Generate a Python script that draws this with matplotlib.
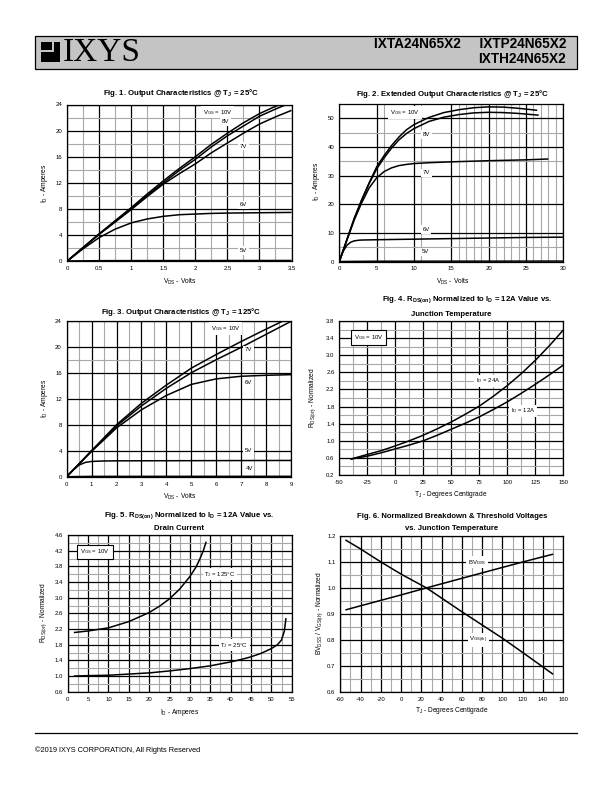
import matplotlib
matplotlib.use('Agg')
import matplotlib.pyplot as plt
from matplotlib.patches import Rectangle

plt.rcParams['font.family'] = ['Liberation Sans', 'DejaVu Sans']
plt.rcParams['mathtext.default'] = 'regular'

# ---- data ----
# Fig. 1  output characteristics @ 25C
f1_x10 = [0, 0.25, 0.5, 0.75, 1.0, 1.25, 1.5, 1.75, 2.0, 2.25, 2.5, 2.75, 3.0, 3.2, 3.32]
f1_y10 = [0, 2.1, 4.2, 6.2, 8.2, 10.3, 12.3, 14.2, 16.0, 17.9, 19.6, 21.2, 22.6, 23.5, 24.0]
f1_x8 = [0, 0.25, 0.5, 0.75, 1.0, 1.25, 1.5, 1.75, 2.0, 2.25, 2.5, 2.75, 3.0, 3.25, 3.42]
f1_y8 = [0, 2.1, 4.15, 6.1, 8.1, 10.1, 12.0, 13.9, 15.6, 17.5, 19.2, 20.7, 22.2, 23.3, 24.0]
f1_x7 = [0, 0.25, 0.5, 0.75, 1.0, 1.25, 1.5, 1.75, 2.0, 2.25, 2.5, 2.75, 3.0, 3.25, 3.5]
f1_y7 = [0, 2.05, 4.1, 6.0, 7.9, 9.9, 11.8, 13.4, 14.9, 16.6, 18.1, 19.6, 21.0, 22.1, 23.1]
f1_x6 = [0, 0.25, 0.5, 0.75, 1.0, 1.25, 1.5, 1.75, 2.0, 2.25, 2.5, 3.0, 3.5]
f1_y6 = [0, 1.9, 3.6, 4.9, 5.85, 6.45, 6.85, 7.1, 7.2, 7.3, 7.35, 7.4, 7.45]
f1_x5 = [0, 0.5, 1.0, 3.5]
f1_y5 = [0, 0.05, 0.06, 0.08]

# Fig. 2  extended output characteristics @ 25C
f2_x10 = [0, 1, 2, 3, 4, 5, 6, 7, 8, 9, 10, 12, 14, 16, 18, 20, 22, 24, 26.5]
f2_y10 = [0, 7.5, 15, 21.5, 27.5, 33, 37, 40.5, 43.5, 46, 47.8, 50.3, 52, 53, 53.7, 54, 53.9, 53.5, 52.8]
f2_x8 = [0, 1, 2, 3, 4, 5, 6, 7, 8, 9, 10, 12, 14, 16, 18, 20, 22, 24, 26.7]
f2_y8 = [0, 7.5, 15, 21.5, 27.2, 32.3, 36.2, 39.6, 42.5, 44.7, 46.4, 48.9, 50.4, 51.3, 51.9, 52.1, 52.0, 51.7, 51.1]
f2_x7 = [0, 1, 2, 3, 4, 5, 6, 7, 8, 9, 10, 12, 15, 20, 25, 28]
f2_y7 = [0, 7.3, 14.5, 20.5, 25.7, 29.2, 31.4, 32.7, 33.5, 33.9, 34.2, 34.5, 34.8, 35.2, 35.5, 35.8]
f2_x6 = [0, 0.5, 1, 1.5, 2, 2.5, 3, 5, 10, 15, 20, 25, 30]
f2_y6 = [0, 3.5, 5.6, 6.7, 7.2, 7.4, 7.5, 7.6, 7.8, 8.0, 8.2, 8.4, 8.5]
f2_x5 = [0, 5, 30]
f2_y5 = [0, 0.1, 0.15]

# Fig. 3  output characteristics @ 125C
f3_x10 = [0, 1, 2, 3, 4, 5, 6, 7, 8, 8.7]
f3_y10 = [0, 4.0, 8.0, 11.3, 14.1, 16.7, 18.8, 20.8, 22.7, 24.0]
f3_x7 = [0, 1, 2, 3, 4, 5, 6, 7, 8, 9]
f3_y7 = [0, 4.0, 7.8, 10.9, 13.6, 16.0, 18.0, 19.9, 21.9, 23.9]
f3_x6 = [0, 1, 2, 3, 4, 5, 6, 7, 8, 9]
f3_y6 = [0, 3.9, 7.5, 10.3, 12.5, 14.2, 15.05, 15.45, 15.6, 15.7]
f3_x5 = [0, 0.25, 0.5, 0.75, 1.0, 1.5, 2.0, 9.0]
f3_y5 = [0, 1.0, 1.8, 2.2, 2.35, 2.42, 2.44, 2.5]
f3_x4 = [0, 1, 9]
f3_y4 = [0, 0.05, 0.06]

# Fig. 4  RDS(on) vs junction temperature
f4_t = [-40, -25, -12.5, 0, 12.5, 25, 37.5, 50, 62.5, 75, 87.5, 100, 112.5, 125, 137.5, 150]
f4_r24 = [0.57, 0.68, 0.77, 0.88, 1.0, 1.13, 1.28, 1.44, 1.62, 1.81, 2.04, 2.29, 2.57, 2.88, 3.22, 3.59]
f4_r12 = [0.57, 0.64, 0.72, 0.81, 0.90, 1.0, 1.13, 1.27, 1.41, 1.56, 1.73, 1.91, 2.11, 2.32, 2.54, 2.77]

# Fig. 5  RDS(on) vs drain current
f5_i125 = [1.5, 5, 10, 15, 20, 22.5, 25, 27.5, 30, 31.5, 32.5, 33.3, 34]
f5_r125 = [2.11, 2.15, 2.23, 2.39, 2.62, 2.78, 2.97, 3.22, 3.54, 3.78, 4.0, 4.2, 4.43]
f5_i25 = [1.5, 5, 10, 15, 20, 25, 30, 35, 40, 42.5, 45, 47.5, 50, 51.5, 52.5, 53.2, 53.6]
f5_r25 = [1.0, 1.01, 1.02, 1.05, 1.08, 1.13, 1.19, 1.26, 1.36, 1.42, 1.49, 1.58, 1.7, 1.8, 1.92, 2.15, 2.48]

# Fig. 6  BVDSS and VGS(th) vs temperature
f6_t = [-55, -40, -20, 0, 25, 60, 80, 100, 125, 150]
f6_bv = [0.915, 0.931, 0.952, 0.973, 1.0, 1.037, 1.058, 1.079, 1.105, 1.13]
f6_vth = [1.185, 1.15, 1.10, 1.053, 1.0, 0.908, 0.857, 0.806, 0.737, 0.667]

W, H = 612, 792
fig = plt.figure(figsize=(6.12, 7.92), dpi=100)

bg = fig.add_axes([0, 0, 1, 1])
bg.set_xlim(0, W)
bg.set_ylim(H, 0)
bg.axis('off')

TICK = 4.3
LAB = 4.8
TIT = 5.6


def axes_px(l, t, r, b):
    return fig.add_axes([l / W, 1 - b / H, (r - l) / W, (b - t) / H])


def setup(ax, xlim, ylim, xmaj, ymaj, xmin, ymin, xlab=None, ylab=None):
    ax.set_xlim(xlim)
    ax.set_ylim(ylim)
    ax.set_xticks(xmaj)
    ax.set_yticks(ymaj)
    if xlab is not None:
        ax.set_xticklabels(xlab)
    if ylab is not None:
        ax.set_yticklabels(ylab)
    ax.set_xticks(xmin, minor=True)
    ax.set_yticks(ymin, minor=True)
    ax.grid(which='minor', color='#a8a8a8', lw=0.8)
    ax.grid(which='major', color='black', lw=0.9)
    ax.set_axisbelow(True)
    ax.tick_params(which='both', length=0, labelsize=TICK, pad=3.5)
    for s in ax.spines.values():
        s.set_linewidth(0.9)


def curve(ax, x, y):
    ax.plot(x, y, color='black', lw=1.1, solid_capstyle='butt')


def tag(ax, x, y, s, box=False):
    if box:
        bb = dict(facecolor='white', edgecolor='black', lw=0.8, pad=2.0)
    else:
        bb = dict(facecolor='white', edgecolor='none', pad=1.2)
    ax.text(x, y, s, fontsize=TICK, ha='center', va='center', bbox=bb, zorder=5)


def ptext(x, y, s, **kw):
    bg.text(x, y, s, ha='center', va='center', **kw)


# ---- header / footer ----
bg.add_patch(Rectangle((35, 36), 542, 33, facecolor='#c4c4c4', edgecolor='black', lw=0.9))
bg.add_patch(Rectangle((41, 42), 19, 20, facecolor='black', edgecolor='none'))
bg.add_patch(Rectangle((41, 50), 12, 2.2, facecolor='#c4c4c4', edgecolor='none'))
bg.add_patch(Rectangle((52, 42), 2.2, 10, facecolor='#c4c4c4', edgecolor='none'))
bg.text(63, 53, 'IXYS', fontsize=24, family='Liberation Serif', ha='left', va='center')
bg.text(566, 44, 'IXTA24N65X2     IXTP24N65X2', fontsize=9.8, weight='bold', ha='right', va='center')
bg.text(566, 59, 'IXTH24N65X2', fontsize=9.8, weight='bold', ha='right', va='center')
bg.plot([35, 577], [733, 733], color='black', lw=0.9)
bg.text(35, 750, '\u00a92019 IXYS CORPORATION, All Rights Reserved', fontsize=5.3, ha='left', va='center')

# ---- Fig. 1 ----
ax1 = axes_px(67.3, 104.5, 291.5, 261)
setup(ax1, (0, 3.5), (0, 24),
      [0, 0.5, 1, 1.5, 2, 2.5, 3, 3.5], [0, 4, 8, 12, 16, 20, 24],
      [0.25, 0.75, 1.25, 1.75, 2.25, 2.75, 3.25], [2, 6, 10, 14, 18, 22],
      xlab=['0', '0.5', '1', '1.5', '2', '2.5', '3', '3.5'])
curve(ax1, f1_x10, f1_y10)
curve(ax1, f1_x8, f1_y8)
curve(ax1, f1_x7, f1_y7)
curve(ax1, f1_x6, f1_y6)
curve(ax1, f1_x5, f1_y5)
tag(ax1, 2.35, 22.8, 'V$_{GS}$ = 10V')
tag(ax1, 2.47, 21.4, '8V')
tag(ax1, 2.75, 17.6, '7V')
tag(ax1, 2.75, 8.6, '6V')
tag(ax1, 2.75, 1.6, '5V')
ptext(181, 93, 'Fig. 1. Output Characteristics @ T$_J$ = 25\u00b0C', fontsize=TIT, weight='bold')
ptext(180, 282, 'V$_{DS}$ - Volts', fontsize=LAB)
ptext(45, 183, 'I$_D$ - Amperes', fontsize=LAB, rotation=90)

# ---- Fig. 2 ----
ax2 = axes_px(339.3, 104, 563.3, 261.5)
setup(ax2, (0, 30), (0, 55),
      [0, 5, 10, 15, 20, 25, 30], [0, 10, 20, 30, 40, 50],
      [6, 11, 16, 17, 18, 19, 21, 22, 23, 24, 26, 27, 28, 29], [5, 35, 45])
curve(ax2, f2_x10, f2_y10)
curve(ax2, f2_x8, f2_y8)
curve(ax2, f2_x7, f2_y7)
curve(ax2, f2_x6, f2_y6)
curve(ax2, f2_x5, f2_y5)
tag(ax2, 8.8, 52, 'V$_{GS}$ = 10V')
tag(ax2, 11.7, 44.4, '8V')
tag(ax2, 11.65, 31, '7V')
tag(ax2, 11.6, 11.2, '6V')
tag(ax2, 11.6, 3.4, '5V')
ptext(453, 94, 'Fig. 2. Extended Output Characteristics @ T$_J$ = 25\u00b0C', fontsize=TIT, weight='bold')
ptext(453, 282, 'V$_{DS}$ - Volts', fontsize=LAB)
ptext(316, 181, 'I$_D$ - Amperes', fontsize=LAB, rotation=90)

# ---- Fig. 3 ----
ax3 = axes_px(66.7, 320.7, 291, 476.7)
setup(ax3, (0, 9), (0, 24),
      list(range(10)), [0, 4, 8, 12, 16, 20, 24],
      [0.5, 1.5, 2.5, 3.5, 4.5, 5.5, 6.5, 7.5, 8.5], [18])
curve(ax3, f3_x10, f3_y10)
curve(ax3, f3_x7, f3_y7)
curve(ax3, f3_x6, f3_y6)
curve(ax3, f3_x5, f3_y5)
curve(ax3, f3_x4, f3_y4)
tag(ax3, 6.38, 22.8, 'V$_{GS}$ = 10V')
tag(ax3, 7.29, 19.5, '7V')
tag(ax3, 7.29, 14.5, '6V')
tag(ax3, 7.29, 4.0, '5V')
tag(ax3, 7.32, 1.25, '4V')
ptext(181, 312, 'Fig. 3. Output Characteristics @ T$_J$ = 125\u00b0C', fontsize=TIT, weight='bold')
ptext(180, 497, 'V$_{DS}$ - Volts', fontsize=LAB)
ptext(45, 398, 'I$_D$ - Amperes', fontsize=LAB, rotation=90)

# ---- Fig. 4 ----
ax4 = axes_px(339.3, 321, 563.3, 475)
y4 = [0.2, 0.6, 1.0, 1.4, 1.8, 2.2, 2.6, 3.0, 3.4, 3.8]
setup(ax4, (-50, 150), (0.2, 3.8),
      [-50, -25, 0, 25, 50, 75, 100, 125, 150], y4,
      [-37.5, -12.5, 12.5, 37.5, 62.5, 87.5, 112.5, 137.5],
      [0.4, 0.8, 1.2, 1.6, 2.0, 2.4, 2.8, 3.2, 3.6],
      xlab=['-50', '-25', '0', '25', '50', '75', '100', '125', '150'],
      ylab=['%.1f' % v for v in y4])
curve(ax4, f4_t, f4_r24)
curve(ax4, f4_t, f4_r12)
tag(ax4, -24, 3.42, 'V$_{GS}$ = 10V', box=True)
tag(ax4, 83, 2.4, 'I$_D$ = 24A')
tag(ax4, 114, 1.70, 'I$_D$ = 12A')
ptext(467, 300, 'Fig. 4. R$_{DS(on)}$ Normalized to I$_D$ = 12A Value vs.', fontsize=TIT, weight='bold')
ptext(451, 314, 'Junction Temperature', fontsize=TIT, weight='bold')
ptext(451, 494, 'T$_J$ - Degrees Centigrade', fontsize=LAB)
ptext(313, 398, 'R$_{DS(on)}$ - Normalized', fontsize=LAB, rotation=90)

# ---- Fig. 5 ----
ax5 = axes_px(67.7, 535, 291.7, 691.7)
y5 = [0.6, 1.0, 1.4, 1.8, 2.2, 2.6, 3.0, 3.4, 3.8, 4.2, 4.6]
setup(ax5, (0, 55), (0.6, 4.6),
      list(range(0, 60, 5)), y5,
      [2.5, 7.5, 12.5, 17.5, 22.5, 27.5, 32.5, 37.5, 42.5, 47.5, 52.5],
      [0.8, 1.2, 1.6, 2.0, 2.4, 2.8, 3.2, 3.6, 4.0, 4.4],
      ylab=['%.1f' % v for v in y5])
curve(ax5, f5_i125, f5_r125)
curve(ax5, f5_i25, f5_r25)
tag(ax5, 6.7, 4.17, 'V$_{GS}$ = 10V', box=True)
tag(ax5, 37.4, 3.6, 'T$_J$ = 125\u00b0C')
tag(ax5, 40.9, 1.79, 'T$_J$ = 25\u00b0C')
ptext(189, 516, 'Fig. 5. R$_{DS(on)}$ Normalized to I$_D$ = 12A Value vs.', fontsize=TIT, weight='bold')
ptext(179, 529, 'Drain Current', fontsize=TIT, weight='bold')
ptext(180, 712, 'I$_D$ - Amperes', fontsize=LAB)
ptext(44, 613, 'R$_{DS(on)}$ - Normalized', fontsize=LAB, rotation=90)

# ---- Fig. 6 ----
ax6 = axes_px(340.3, 536, 563.3, 691.7)
y6 = [0.6, 0.7, 0.8, 0.9, 1.0, 1.1, 1.2]
x6 = list(range(-60, 180, 20))
setup(ax6, (-60, 160), (0.6, 1.2),
      x6, y6,
      list(range(-50, 160, 20)), [0.65, 0.75, 0.85, 0.95, 1.05, 1.15],
      xlab=[str(v) for v in x6],
      ylab=['%.1f' % v for v in y6])
curve(ax6, f6_t, f6_bv)
curve(ax6, f6_t, f6_vth)
tag(ax6, 74.6, 1.099, 'BV$_{DSS}$')
tag(ax6, 76.2, 0.799, 'V$_{GS(th)}$')
ptext(452, 517, 'Fig. 6. Normalized Breakdown & Threshold Voltages', fontsize=TIT, weight='bold')
ptext(452, 529, 'vs. Junction Temperature', fontsize=TIT, weight='bold')
ptext(452, 710, 'T$_J$ - Degrees Centigrade', fontsize=LAB)
ptext(320, 613, 'BV$_{DSS}$ / V$_{GS(th)}$ - Normalized', fontsize=LAB, rotation=90)

fig.savefig('out.png', dpi=100)
